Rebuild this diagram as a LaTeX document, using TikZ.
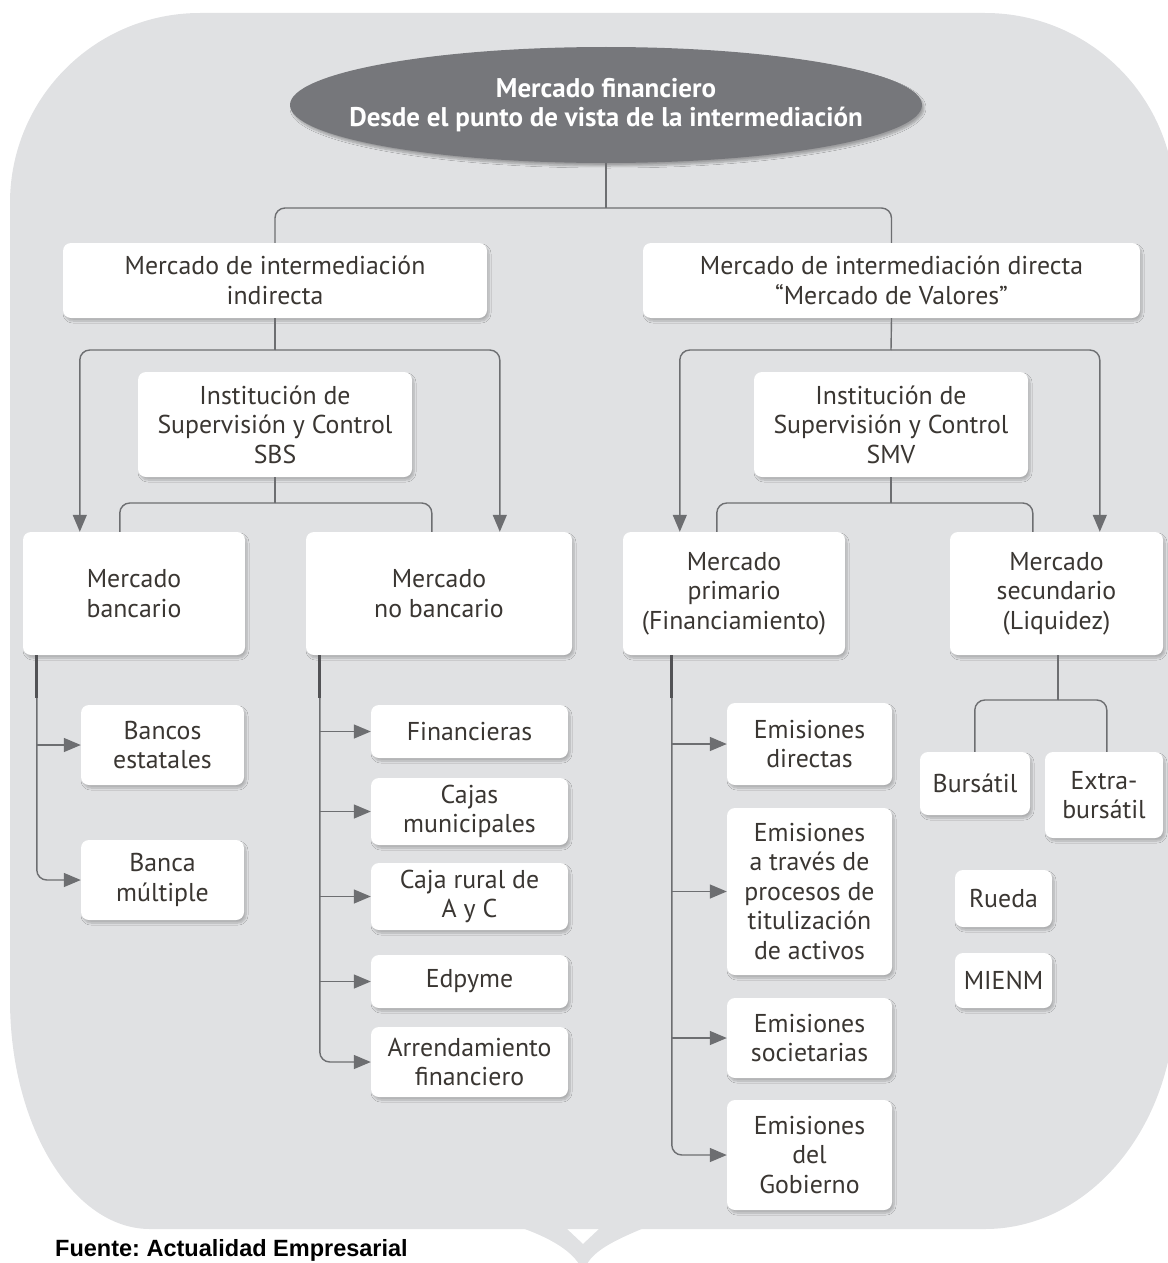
\documentclass[tikz,border=0pt]{standalone}
\usepackage{fontspec}
\setmainfont{PT Sans}
\newfontfamily\arialb{Liberation Sans}
\usetikzlibrary{shapes.geometric,arrows.meta,shadows.blur}
\definecolor{bgc}{HTML}{E0E1E3}
\definecolor{lnc}{HTML}{6D6E71}
\definecolor{txc}{HTML}{3A3632}
\definecolor{ellc}{HTML}{76777B}
\newcommand\bx[6]{\node[box, minimum width={#4-#2}, minimum height={#5-#3}] (#1) at ({(#2+#4)/2},{(#3+#5)/2}) {#6};}
\frenchspacing
\begin{document}
\begin{tikzpicture}[x=1pt,y=-1pt,
  box/.style={fill=white, rounded corners=8pt, align=center, text=txc, inner sep=0pt,
    font=\fontsize{25.8}{29.5}\selectfont,
    blur shadow={shadow blur steps=8, shadow xshift=2pt, shadow yshift=-3pt, shadow opacity=22}},
  conn/.style={draw=lnc, line width=1.4pt},
  arr/.style={conn, -{Triangle[length=17pt,width=14pt]}},
  rc/.style={rounded corners=10pt},
  dk/.style={draw=lnc!75!black, line width=2.8pt}]
\useasboundingbox (0,0) rectangle (1167,1263);
% background panel
\fill[bgc] (200,13) -- (985,13) .. controls (1090,13) and (1175,98) .. (1175,203)
  -- (1175,1000) .. controls (1175,1126) and (1090,1229) .. (985,1229)
  -- (150,1229) .. controls (73,1229) and (10,1126) .. (10,1000)
  -- (10,203) .. controls (10,98) and (95,13) .. (200,13) -- cycle;
\fill[bgc] (522,1228) -- (566,1228) -- (583,1244) -- (600,1228) -- (644,1228)
  .. controls (615,1240) and (595,1250) .. (587,1264) -- (579,1264)
  .. controls (570,1250) and (550,1238) .. (522,1228) -- cycle;
% root
\node[ellipse, fill=ellc, minimum width=632pt, minimum height=116pt, inner xsep=-80pt, inner ysep=0pt, align=center,
  text=white, font=\bfseries\fontsize{27}{29}\selectfont,
  blur shadow={shadow blur steps=8, shadow xshift=2pt, shadow yshift=-3pt, shadow opacity=30}]
  (root) at (606,105) {Mercado financiero\\Desde el punto de vista de la intermediación};
% level 1
\bx{A}{63}{243}{487}{318}{Mercado de intermediación\\indirecta}
\bx{B}{643}{243}{1140}{318}{Mercado de intermediación directa\\“Mercado de Valores”}
\bx{sbs}{138}{372}{412}{477}{Institución de\\Supervisión y Control\\SBS}
\bx{smv}{754}{372}{1028}{477}{Institución de\\Supervisión y Control\\SMV}
% level 2
\bx{mb}{23}{532}{245}{655}{Mercado\\bancario}
\bx{mnb}{306}{532}{572}{655}{Mercado\\no bancario}
\bx{mp}{623}{532}{845}{655}{Mercado\\primario\\(Financiamiento)}
\bx{ms}{950}{532}{1163}{655}{Mercado\\secundario\\(Liquidez)}
% bancario
\bx{be}{81}{705}{244}{785}{Bancos\\estatales}
\bx{bm}{81}{840}{244}{920}{Banca\\múltiple}
% no bancario
\bx{fin}{371}{705}{568}{758}{Financieras}
\bx{caj}{371}{778}{568}{845}{Cajas\\municipales}
\bx{cr}{371}{863}{568}{930}{Caja rural de\\A y C}
\bx{edp}{371}{955}{568}{1008}{Edpyme}
\bx{arr}{371}{1027}{568}{1097}{Arrendamiento\\financiero}
% primario
\bx{ed}{727}{703}{892}{785}{Emisiones\\directas}
\bx{et}{727}{808}{892}{975}{Emisiones\\a través de\\procesos de\\titulización\\de activos}
\bx{es}{727}{998}{892}{1078}{Emisiones\\societarias}
\bx{eg}{727}{1100}{892}{1210}{Emisiones\\del\\Gobierno}
% secundario
\bx{bur}{920}{752}{1030}{815}{Bursátil}
\bx{ext}{1045}{752}{1163}{838}{Extra-\\bursátil}
\bx{rue}{955}{870}{1052}{927}{Rueda}
\bx{mie}{955}{953}{1052}{1008}{MIENM}
% connectors top
\coordinate (j0) at (606,208);
\draw[conn] (root.south) -- (j0);
\draw[conn,rc] (A.north) |- (j0) -| (B.north);
% left branch
\coordinate (ja) at (275,350);
\draw[conn] (A.south) -- (ja);
\draw[arr,rc] (ja) -| ([xshift=57pt]mb.north west);
\draw[arr,rc] (ja) -| ([xshift=194pt]mnb.north west);
\coordinate (js) at (275,503);
\draw[conn] (sbs.south) -- (js);
\draw[conn,rc] (js) -| ([xshift=97pt]mb.north west);
\draw[conn,rc] (js) -| ([xshift=126pt]mnb.north west);
% right branch
\coordinate (jb) at (891,350);
\draw[conn] (B.south) -- (jb);
\draw[arr,rc] (jb) -| ([xshift=57pt]mp.north west);
\draw[arr,rc] (jb) -| ([xshift=150pt]ms.north west);
\coordinate (jm) at (891,503);
\draw[conn] (smv.south) -- (jm);
\draw[conn,rc] (jm) -| ([xshift=94pt]mp.north west);
\draw[conn,rc] (jm) -| ([xshift=83pt]ms.north west);
% bancario list
\coordinate (t1) at ([xshift=14pt]mb.south west);
\draw[arr,rc] (t1) |- (bm.west);
\draw[arr] (t1 |- be.west) -- (be.west);
\draw[dk] (t1) -- ++(0,43);
% no bancario list
\coordinate (t2) at ([xshift=14pt]mnb.south west);
\draw[arr,rc] (t2) |- (arr.west);
\draw[arr] (t2 |- fin.west) -- (fin.west);
\draw[arr] (t2 |- caj.west) -- (caj.west);
\draw[arr] (t2 |- cr.west) -- (cr.west);
\draw[arr] (t2 |- edp.west) -- (edp.west);
\draw[dk] (t2) -- ++(0,43);
% primario list
\coordinate (t3) at ([xshift=49pt]mp.south west);
\draw[arr,rc] (t3) |- (eg.west);
\draw[arr] (t3 |- ed.west) -- (ed.west);
\draw[arr] (t3 |- et.west) -- (et.west);
\draw[arr] (t3 |- es.west) -- (es.west);
\draw[dk] (t3) -- ++(0,43);
% secundario
\coordinate (jx) at (1058,700);
\draw[conn] (ms.south west -| jx) -- (jx);
\draw[conn,rc] (jx) -| ([xshift=55pt]bur.north west);
\draw[conn,rc] (jx) -| ([xshift=62pt]ext.north west);
% source
\node[anchor=base west, inner sep=0pt, text=black, font=\arialb\bfseries\fontsize{23.5}{26}\selectfont]
  (src) at (55,1256) {Fuente: Actualidad Empresarial};
\end{tikzpicture}
\end{document}
